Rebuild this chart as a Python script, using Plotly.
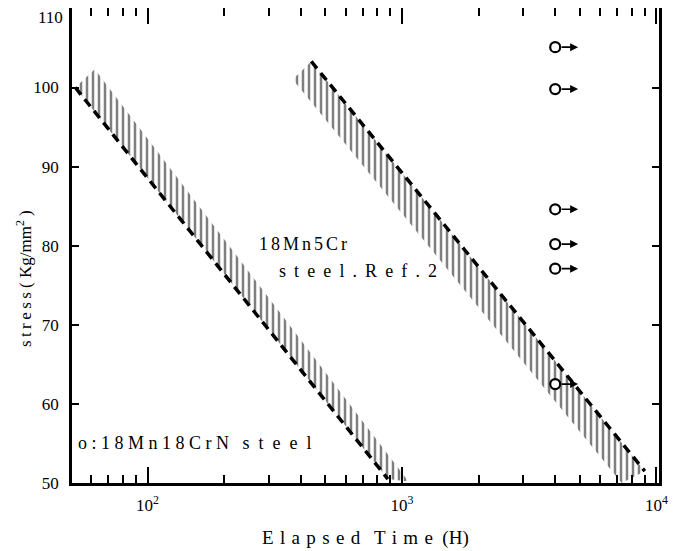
import math
import plotly.graph_objects as go

# ---- data ----
# Left band (18Mn5Cr, Ref.2): dashed lower-left edge and far (upper-right) edge
bandA_dash_t = [52, 880]
bandA_dash_s = [100.0, 50.5]
bandA_far_t = [62, 1060]
bandA_far_s = [102.3, 50.2]

# Right band: dashed upper-right edge and far (lower-left) edge
bandB_dash_t = [440, 9000]
bandB_dash_s = [103.3, 51.5]
bandB_far_t = [372, 7300]
bandB_far_s = [101.0, 50.0]

# 18Mn18CrN steel points (runouts, arrows to the right)
pts_t = [4000, 4000, 4000, 4000, 4000, 4000]
pts_s = [105.1, 99.8, 84.6, 80.2, 77.1, 62.5]

x_major = [100, 1000, 10000]
x_major_text = ["10<sup>2</sup>", "10<sup>3</sup>", "10<sup>4</sup>"]
x_minor = [m * 10 ** e for e in (1, 2, 3) for m in range(2, 10) if 50 <= m * 10 ** e <= 10000]
y_ticks = [50, 60, 70, 80, 90, 100]
y_top_label = 110

FONT = "Liberation Serif"

fig = go.Figure()


def add_band(dash_t, dash_s, far_t, far_s):
    poly_t = dash_t + far_t[::-1] + [dash_t[0]]
    poly_s = dash_s + far_s[::-1] + [dash_s[0]]
    fig.add_trace(go.Scatter(
        x=poly_t, y=poly_s, mode="lines", fill="toself",
        fillcolor="rgba(255,255,255,0)",
        fillpattern=dict(shape="|", fgcolor="black", bgcolor="white", size=6, solidity=0.42),
        line=dict(width=0, color="rgba(0,0,0,0)"), hoverinfo="skip", showlegend=False))
    fig.add_trace(go.Scatter(
        x=dash_t, y=dash_s, mode="lines",
        line=dict(color="black", width=3.5, dash="9px,6px"),
        hoverinfo="skip", showlegend=False))


add_band(bandA_dash_t, bandA_dash_s, bandA_far_t, bandA_far_s)
add_band(bandB_dash_t, bandB_dash_s, bandB_far_t, bandB_far_s)

fig.add_trace(go.Scatter(
    x=pts_t, y=pts_s, mode="markers",
    marker=dict(symbol="circle", size=10, color="white", line=dict(color="black", width=2.2)),
    showlegend=False))

for t, s in zip(pts_t, pts_s):
    fig.add_annotation(x=math.log10(t) + 0.09, y=s, ax=-18, ay=0, axref="pixel", ayref="pixel",
                       text="", showarrow=True, arrowhead=2, arrowsize=1, arrowwidth=1.6,
                       arrowcolor="black", xref="x", yref="y")


def spaced(txt, gap):
    return gap.join(list(txt))


tf = dict(family=FONT, size=18, color="black")
fig.add_annotation(x=2.43, y=80.2, xref="x", yref="y", text=spaced("18Mn5Cr", "\u2006"), showarrow=False,
                   xanchor="left", yanchor="middle", font=tf)
fig.add_annotation(x=2.509, y=76.8, xref="x", yref="y", text=spaced("steel.Ref.2", " \u2009"), showarrow=False,
                   xanchor="left", yanchor="middle", font=tf)
fig.add_annotation(x=1.72, y=55.0, xref="x", yref="y",
                   text=spaced("o:18Mn18CrN", " ") + "   " + spaced("steel", "  "),
                   showarrow=False, xanchor="left", yanchor="middle", font=tf)

# axis titles
fig.add_annotation(x=0.5, y=-0.115, xref="paper", yref="paper",
                   text=spaced("Elapsed", " \u200a") + "   " + spaced("Time", " \u200a") + "  (H)",
                   showarrow=False, xanchor="center", yanchor="middle",
                   font=dict(family=FONT, size=19, color="black"))
fig.add_annotation(x=-0.083, y=0.43, xref="paper", yref="paper",
                   text=spaced("stress", "\u2009") + " ( Kg/mm<sup>2</sup> )", textangle=-90,
                   showarrow=False, xanchor="center", yanchor="middle",
                   font=dict(family=FONT, size=17, color="black"))
# top y label (kept as annotation so it is not clipped at the page edge)
fig.add_annotation(x=-0.012, y=y_top_label - 1.1, xref="paper", yref="y", text=str(y_top_label),
                   showarrow=False, xanchor="right", yanchor="middle",
                   font=dict(family=FONT, size=17, color="black"))

# page body has an 8px default margin: size the figure so the plot area lands where the reference has it
fig.update_layout(
    width=682, height=543,
    margin=dict(l=64, r=31, t=0, b=68),
    paper_bgcolor="white", plot_bgcolor="white",
    font=dict(family=FONT, color="black"),
    showlegend=False,
    xaxis=dict(type="log", range=[1.703, 4.01], tickvals=x_major, ticktext=x_major_text,
               ticks="inside", ticklen=16, tickwidth=1.5, tickcolor="black",
               minor=dict(tickvals=x_minor, ticks="inside", ticklen=8, tickwidth=1.5, tickcolor="black"),
               showline=True, linewidth=2.5, linecolor="black", mirror="ticks",
               showgrid=False, zeroline=False, tickfont=dict(family=FONT, size=17),
               ticklabelstandoff=5, automargin=False),
    yaxis=dict(range=[50, 110.05], tickvals=y_ticks + [y_top_label], ticktext=[str(v) for v in y_ticks] + [""],
               ticks="inside", ticklen=7, tickwidth=1.5, tickcolor="black",
               showline=True, linewidth=2.5, linecolor="black", mirror="ticks",
               showgrid=False, zeroline=False, tickfont=dict(family=FONT, size=17),
               ticklabelstandoff=7, automargin=False),
)

fig.write_html("out.html")
